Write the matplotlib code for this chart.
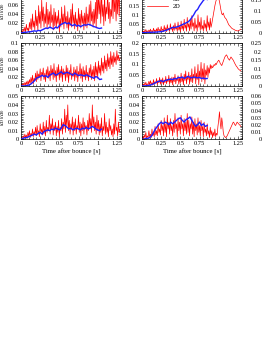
import numpy as np
import matplotlib
matplotlib.use("Agg")
import matplotlib.pyplot as plt
from matplotlib.ticker import MultipleLocator, FuncFormatter

plt.rcParams['font.family'] = ['Liberation Serif', 'DejaVu Serif']
plt.rcParams['mathtext.fontset'] = 'stix'

# ---------------- data ----------------
# 2D (red) series sampled every 0.01 s (t = 0 ... 1.29)
L1_red = [0.001, 0.004, 0.002, 0.008, 0.003, 0.012, 0.002, 0.018, 0.005, 0.010,
          0.003, 0.022, 0.008, 0.030, 0.005, 0.040, 0.012, 0.025, 0.006, 0.048,
          0.015, 0.035, 0.004, 0.058, 0.020, 0.045, 0.010, 0.070, 0.025, 0.055,
          0.012, 0.040, 0.020, 0.065, 0.008, 0.050, 0.018, 0.045, 0.010, 0.060,
          0.022, 0.038, 0.006, 0.052, 0.015, 0.044, 0.010, 0.036, 0.020, 0.048,
          0.002, 0.030, 0.012, 0.055, 0.018, 0.040, 0.008, 0.058, 0.022, 0.035,
          0.010, 0.045, 0.005, 0.032, 0.015, 0.050, 0.012, 0.062, 0.020, 0.038,
          0.008, 0.044, 0.016, 0.030, 0.004, 0.052, 0.018, 0.040, 0.010, 0.048,
          0.020, 0.036, 0.006, 0.042, 0.014, 0.055, 0.010, 0.040, 0.022, 0.060,
          0.015, 0.068, 0.025, 0.045, 0.012, 0.050, 0.020, 0.065, 0.010, 0.075,
          0.030, 0.085, 0.040, 0.070, 0.020, 0.095, 0.035, 0.060, 0.015, 0.080,
          0.025, 0.055, 0.040, 0.090, 0.030, 0.065, 0.020, 0.050, 0.035, 0.085,
          0.030, 0.095, 0.045, 0.070, 0.025, 0.080, 0.040, 0.100, 0.035, 0.090]
L2_red = [0.001, 0.004, 0.002, 0.006, 0.001, 0.008, 0.003, 0.010, 0.002, 0.012,
          0.004, 0.015, 0.006, 0.020, 0.008, 0.025, 0.005, 0.018, 0.012, 0.030,
          0.010, 0.035, 0.015, 0.028, 0.020, 0.040, 0.012, 0.032, 0.025, 0.042,
          0.015, 0.030, 0.010, 0.038, 0.022, 0.045, 0.018, 0.035, 0.012, 0.048,
          0.025, 0.040, 0.015, 0.052, 0.020, 0.036, 0.010, 0.044, 0.024, 0.050,
          0.014, 0.038, 0.020, 0.046, 0.010, 0.040, 0.026, 0.034, 0.012, 0.048,
          0.020, 0.042, 0.008, 0.036, 0.024, 0.050, 0.015, 0.030, 0.022, 0.044,
          0.012, 0.038, 0.020, 0.046, 0.010, 0.034, 0.025, 0.052, 0.018, 0.040,
          0.010, 0.045, 0.022, 0.036, 0.014, 0.048, 0.020, 0.032, 0.012, 0.042,
          0.024, 0.050, 0.015, 0.038, 0.020, 0.046, 0.012, 0.055, 0.025, 0.045,
          0.018, 0.058, 0.030, 0.048, 0.025, 0.065, 0.035, 0.055, 0.030, 0.070,
          0.040, 0.060, 0.035, 0.075, 0.045, 0.066, 0.040, 0.080, 0.050, 0.070,
          0.045, 0.078, 0.055, 0.068, 0.050, 0.082, 0.060, 0.072, 0.058, 0.065]
L3_red = [0.000, 0.002, 0.001, 0.004, 0.001, 0.006, 0.002, 0.005, 0.001, 0.008,
          0.003, 0.010, 0.002, 0.007, 0.004, 0.012, 0.003, 0.009, 0.005, 0.014,
          0.004, 0.016, 0.006, 0.010, 0.003, 0.018, 0.008, 0.012, 0.005, 0.020,
          0.006, 0.015, 0.004, 0.022, 0.008, 0.014, 0.010, 0.028, 0.006, 0.018,
          0.012, 0.024, 0.005, 0.016, 0.010, 0.020, 0.004, 0.015, 0.008, 0.022,
          0.003, 0.014, 0.010, 0.024, 0.006, 0.020, 0.012, 0.035, 0.008, 0.028,
          0.015, 0.040, 0.010, 0.022, 0.006, 0.018, 0.012, 0.026, 0.005, 0.020,
          0.010, 0.024, 0.006, 0.016, 0.012, 0.028, 0.008, 0.020, 0.004, 0.018,
          0.010, 0.025, 0.006, 0.020, 0.012, 0.016, 0.005, 0.022, 0.010, 0.030,
          0.012, 0.024, 0.008, 0.040, 0.014, 0.026, 0.010, 0.020, 0.006, 0.028,
          0.010, 0.022, 0.005, 0.018, 0.008, 0.025, 0.004, 0.015, 0.010, 0.030,
          0.006, 0.020, 0.008, 0.014, 0.003, 0.024, 0.010, 0.016, 0.005, 0.012,
          0.003, 0.018, 0.006, 0.035, 0.010, 0.014, 0.004, 0.020, 0.008, 0.012]
M1_red = [0.002, 0.008, 0.003, 0.012, 0.004, 0.018, 0.005, 0.010, 0.003, 0.015,
          0.004, 0.020, 0.006, 0.012, 0.003, 0.025, 0.008, 0.015, 0.004, 0.022,
          0.006, 0.030, 0.010, 0.018, 0.005, 0.035, 0.012, 0.020, 0.006, 0.040,
          0.010, 0.028, 0.005, 0.045, 0.015, 0.025, 0.008, 0.050, 0.018, 0.030,
          0.006, 0.040, 0.012, 0.055, 0.020, 0.030, 0.008, 0.060, 0.015, 0.035,
          0.005, 0.065, 0.020, 0.040, 0.010, 0.075, 0.025, 0.045, 0.008, 0.085,
          0.030, 0.050, 0.010, 0.070, 0.020, 0.095, 0.035, 0.055, 0.010, 0.080,
          0.025, 0.045, 0.008, 0.100, 0.030, 0.060, 0.015, 0.085, 0.020, 0.040,
          0.010, 0.070, 0.025, 0.050, 0.008, 0.095, 0.030, 0.060, 0.015, 0.080,
          0.030, 0.050, 0.075, 0.100, 0.125, 0.150, 0.170, 0.185, 0.190, 0.195,
          0.190, 0.175, 0.150, 0.125, 0.105, 0.100, 0.110, 0.095, 0.085, 0.080,
          0.075, 0.065, 0.055, 0.045, 0.040, 0.035, 0.030, 0.025, 0.022, 0.020,
          0.018, 0.015, 0.013, 0.012, 0.010, 0.010, 0.012, 0.014, 0.017, 0.020]
M2_red = [0.002, 0.008, 0.003, 0.012, 0.005, 0.018, 0.004, 0.010, 0.006, 0.022,
          0.005, 0.025, 0.010, 0.015, 0.004, 0.030, 0.008, 0.020, 0.012, 0.035,
          0.006, 0.025, 0.015, 0.040, 0.008, 0.030, 0.012, 0.038, 0.005, 0.028,
          0.015, 0.045, 0.010, 0.032, 0.020, 0.050, 0.008, 0.035, 0.015, 0.042,
          0.005, 0.040, 0.020, 0.055, 0.010, 0.035, 0.025, 0.048, 0.008, 0.038,
          0.015, 0.060, 0.020, 0.040, 0.005, 0.055, 0.025, 0.070, 0.010, 0.045,
          0.030, 0.065, 0.008, 0.050, 0.020, 0.080, 0.015, 0.055, 0.035, 0.090,
          0.010, 0.060, 0.030, 0.100, 0.005, 0.070, 0.040, 0.110, 0.020, 0.080,
          0.030, 0.105, 0.010, 0.075, 0.050, 0.095, 0.040, 0.085, 0.060, 0.100,
          0.080, 0.095, 0.085, 0.090, 0.100, 0.095, 0.105, 0.100, 0.110, 0.115,
          0.120, 0.115, 0.105, 0.100, 0.095, 0.105, 0.115, 0.125, 0.135, 0.140,
          0.145, 0.140, 0.130, 0.125, 0.120, 0.128, 0.135, 0.130, 0.125, 0.120,
          0.112, 0.105, 0.098, 0.092, 0.088, 0.082, 0.078, 0.075, 0.072, 0.070]
M3_red = [0.000, 0.003, 0.001, 0.005, 0.002, 0.008, 0.001, 0.004, 0.002, 0.010,
          0.003, 0.006, 0.002, 0.012, 0.004, 0.008, 0.003, 0.015, 0.005, 0.010,
          0.004, 0.018, 0.008, 0.012, 0.005, 0.022, 0.010, 0.016, 0.004, 0.025,
          0.008, 0.018, 0.003, 0.028, 0.012, 0.020, 0.006, 0.024, 0.010, 0.016,
          0.004, 0.022, 0.008, 0.030, 0.012, 0.018, 0.003, 0.025, 0.010, 0.020,
          0.006, 0.028, 0.012, 0.018, 0.004, 0.024, 0.010, 0.020, 0.006, 0.030,
          0.008, 0.022, 0.004, 0.018, 0.012, 0.026, 0.006, 0.020, 0.003, 0.024,
          0.010, 0.018, 0.005, 0.025, 0.008, 0.016, 0.004, 0.022, 0.010, 0.015,
          0.003, 0.020, 0.008, 0.012, 0.004, 0.018, 0.006, 0.010, 0.002, 0.014,
          0.005, 0.010, 0.002, 0.008, 0.004, 0.012, 0.003, 0.007, 0.005, 0.015,
          0.022, 0.032, 0.020, 0.012, 0.025, 0.018, 0.008, 0.004, 0.003, 0.002,
          0.003, 0.004, 0.006, 0.008, 0.010, 0.012, 0.014, 0.016, 0.018, 0.020,
          0.019, 0.017, 0.016, 0.018, 0.020, 0.019, 0.018, 0.017, 0.016, 0.015]

# 3D (blue) series sampled every 0.025 s
L1_blue = [0.000, 0.000, 0.001, 0.001, 0.002, 0.002, 0.003, 0.004, 0.003, 0.005,
           0.004, 0.006, 0.008, 0.010, 0.009, 0.012, 0.010, 0.008, 0.012, 0.010,
           0.015, 0.018, 0.020, 0.022, 0.019, 0.021, 0.017, 0.015, 0.018, 0.014,
           0.016, 0.013, 0.015, 0.017, 0.016, 0.018, 0.017, 0.015, 0.013, 0.012,
           0.010, 0.009, 0.010]
L2_blue = [0.000, 0.000, 0.000, 0.001, 0.002, 0.004, 0.008, 0.012, 0.018, 0.020,
           0.022, 0.025, 0.022, 0.024, 0.020, 0.025, 0.028, 0.030, 0.025, 0.027,
           0.030, 0.033, 0.028, 0.030, 0.032, 0.030, 0.028, 0.025, 0.030, 0.027,
           0.024, 0.026, 0.025, 0.023, 0.026, 0.024, 0.022, 0.020, 0.018, 0.022,
           0.020, 0.015, 0.016]
L3_blue = [0.000, 0.001, 0.002, 0.002, 0.003, 0.004, 0.005, 0.006, 0.005, 0.007,
           0.008, 0.006, 0.009, 0.010, 0.011, 0.010, 0.012, 0.011, 0.013, 0.012,
           0.011, 0.013, 0.017, 0.016, 0.014, 0.012, 0.013, 0.011, 0.012, 0.013,
           0.012, 0.011, 0.013, 0.012, 0.014, 0.012, 0.013, 0.015, 0.014, 0.012,
           0.011, 0.010, 0.012]
M1_blue = [0.000, 0.000, 0.001, 0.001, 0.002, 0.002, 0.003, 0.003, 0.004, 0.005,
           0.006, 0.008, 0.012, 0.015, 0.020, 0.025, 0.030, 0.028, 0.032, 0.035,
           0.040, 0.045, 0.050, 0.055, 0.060, 0.070, 0.085, 0.100, 0.120, 0.130,
           0.150, 0.165, 0.180, 0.190, 0.185]
M2_blue = [0.000, 0.000, 0.001, 0.002, 0.004, 0.006, 0.010, 0.015, 0.020, 0.022,
           0.025, 0.020, 0.025, 0.028, 0.030, 0.032, 0.030, 0.035, 0.033, 0.040,
           0.038, 0.042, 0.035, 0.040, 0.045, 0.040, 0.038, 0.042, 0.040, 0.038,
           0.040, 0.035, 0.037, 0.034, 0.035]
M3_blue = [0.000, 0.000, 0.001, 0.001, 0.002, 0.004, 0.008, 0.012, 0.015, 0.018,
           0.020, 0.018, 0.020, 0.019, 0.017, 0.020, 0.018, 0.020, 0.022, 0.024,
           0.025, 0.022, 0.020, 0.023, 0.024, 0.026, 0.022, 0.018, 0.015, 0.017,
           0.020, 0.016, 0.018, 0.015, 0.016]

ylabels = [r'$|a_1|/a_0$', r'$|a_2|/a_0$', r'$|a_3|/a_0$']
xticks = [0, 0.25, 0.5, 0.75, 1, 1.25]
ylims = [[0.092, 0.24, 0.2], [0.1, 0.2, 0.25], [0.05, 0.05, 0.06]]
ymajor = [[0.02, 0.05, 0.05], [0.02, 0.05, 0.05], [0.01, 0.01, 0.01]]

red = [[L1_red, M1_red], [L2_red, M2_red], [L3_red, M3_red]]
blue = [[L1_blue, M1_blue], [L2_blue, M2_blue], [L3_blue, M3_blue]]

# ---------------- figure ----------------
W, H = 262, 339
fig = plt.figure(figsize=(W / 100, H / 100), dpi=100)

col_left = [21, 142, 264]
col_w = 99.7
row_bottom = [32.7, 86.0, 139.3]
row_h = 43.0

fmt = FuncFormatter(lambda v, p: ('%g' % round(v, 4)))
fs = 4.6

for r in range(3):
    for c in range(3):
        ax = fig.add_axes([col_left[c] / W, 1 - row_bottom[r] / H, col_w / W, row_h / H])
        if c < 2:
            rr = np.asarray(red[r][c])
            bb = np.asarray(blue[r][c])
            tr = np.linspace(0, 0.01 * (len(rr) - 1), len(rr))
            tb = np.linspace(0, 0.025 * (len(bb) - 1), len(bb))
            lb, = ax.plot(tb, bb, color='#1f1fff', lw=1.0, zorder=3, label='3D')
            lr, = ax.plot(tr, rr, color='#ff0000', lw=0.5, zorder=2, label='2D')
            if r == 0 and c == 1:
                ax.legend(handles=[lb, lr], loc='upper left', bbox_to_anchor=(0.02, 0.92),
                          frameon=False, fontsize=fs, handlelength=3.2, labelspacing=0.25,
                          handletextpad=0.8, borderpad=0)
        ax.set_xlim(0, 1.3)
        ax.set_ylim(0, ylims[r][c])
        ax.set_xticks(xticks)
        ax.xaxis.set_minor_locator(MultipleLocator(0.05))
        ax.yaxis.set_major_locator(MultipleLocator(ymajor[r][c]))
        ax.yaxis.set_minor_locator(MultipleLocator(ymajor[r][c] / 5))
        ax.xaxis.set_major_formatter(fmt)
        ax.yaxis.set_major_formatter(fmt)
        ax.tick_params(which='both', direction='in', top=True, right=True,
                       labelsize=fs, width=0.4, pad=1.5)
        ax.tick_params(which='major', length=2.2)
        ax.tick_params(which='minor', length=1.2)
        for s in ax.spines.values():
            s.set_linewidth(0.5)
        if c == 0:
            ax.set_ylabel(ylabels[r], fontsize=fs)
            ax.yaxis.set_label_coords(-0.14, 0.5)
        if r == 2:
            ax.set_xlabel('Time after bounce [s]', fontsize=fs + 0.3, labelpad=2)

fig.savefig('out.png', dpi=100)
